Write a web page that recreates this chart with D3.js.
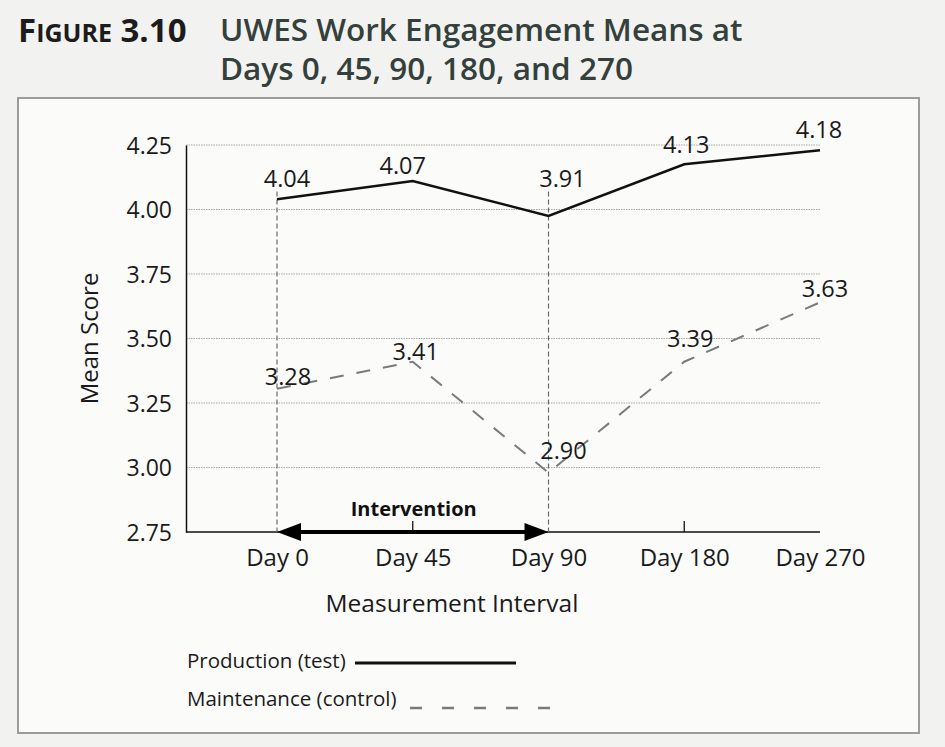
<!DOCTYPE html>
<html>
<head>
<meta charset="utf-8">
<script src="https://cdn.jsdelivr.net/npm/d3@7"></script>
<style>
  body { margin: 0; background: #f2f2f0; }
  svg { display: block; font-family: "Open Sans", sans-serif; }
</style>
</head>
<body>
<div id="chart"></div>
<script>
// data
const days = ["Day 0", "Day 45", "Day 90", "Day 180", "Day 270"];
const production = [4.04, 4.11, 3.975, 4.175, 4.23];
const maintenance = [3.305, 3.41, 2.98, 3.41, 3.64];
const productionLabels = ["4.04", "4.07", "3.91", "4.13", "4.18"];
const maintenanceLabels = ["3.28", "3.41", "2.90", "3.39", "3.63"];
const yTicks = [2.75, 3.00, 3.25, 3.50, 3.75, 4.00, 4.25];

const width = 945, height = 747;
const axisLeft = 186;
// hand placed label nudges (dx, dy) as in the print
const prodOffsets = [[10, -12], [-10, -7], [14, -29], [2, -11], [-1, -12]];
const maintOffsets = [[11, -4], [3, -2], [15, -14], [6, -15], [5, -5]];

const svg = d3.select("#chart").append("svg")
  .attr("width", width).attr("height", height);

// frame
svg.append("rect")
  .attr("x", 18).attr("y", 98).attr("width", 901).attr("height", 635)
  .attr("fill", "#fbfbfa").attr("stroke", "#9c9c9c").attr("stroke-width", 2);

// title
const title = svg.append("text").attr("x", 18).attr("y", 42)
  .attr("font-weight", 700).attr("fill", "#1c1c1c");
title.append("tspan").attr("font-size", 33).text("F");
title.append("tspan").attr("font-size", 25).text("IGURE");
title.append("tspan").attr("font-size", 33).text(" 3.10");

svg.append("text").attr("x", 220).attr("y", 41)
  .attr("font-size", 31.5).attr("font-weight", 600).attr("fill", "#33403c")
  .text("UWES Work Engagement Means at");
svg.append("text").attr("x", 220).attr("y", 80)
  .attr("font-size", 31.5).attr("font-weight", 600).attr("fill", "#33403c")
  .text("Days 0, 45, 90, 180, and 270");

const x = d3.scalePoint().domain(days).range([277, 820]);
const y = d3.scaleLinear().domain([2.75, 4.25]).range([532, 145]);

// gridlines
svg.append("g").selectAll("line")
  .data(yTicks.slice(1))
  .enter().append("line")
  .attr("x1", axisLeft).attr("x2", x("Day 270"))
  .attr("y1", d => y(d)).attr("y2", d => y(d))
  .attr("stroke", "#a8a8a8").attr("stroke-width", 1)
  .attr("stroke-dasharray", "1.5,1");

// y axis
const yAxis = svg.append("g")
  .attr("transform", `translate(${axisLeft},0)`)
  .call(d3.axisLeft(y).tickValues(yTicks).tickSize(0).tickPadding(14).tickFormat(d3.format(".2f")));
yAxis.select(".domain").attr("stroke", "#111").attr("stroke-width", 1.5);
yAxis.selectAll("text").attr("font-size", 23).attr("fill", "#1a1a1a")
  .attr("font-family", "Open Sans").attr("dy", "0.36em");

// x axis
const xAxis = svg.append("g")
  .attr("transform", "translate(0,532)")
  .call(d3.axisBottom(x).tickSize(0).tickPadding(17));
xAxis.select(".domain").remove();
xAxis.selectAll("text").attr("font-size", 24).attr("fill", "#1a1a1a")
  .attr("font-family", "Open Sans");

svg.append("line")
  .attr("x1", axisLeft).attr("x2", x("Day 270"))
  .attr("y1", y(2.75)).attr("y2", y(2.75))
  .attr("stroke", "#111").attr("stroke-width", 1.5);

// small upward ticks
svg.append("g").selectAll("line")
  .data(["Day 45", "Day 180"])
  .enter().append("line")
  .attr("x1", d => x(d)).attr("x2", d => x(d))
  .attr("y1", y(2.75)).attr("y2", y(2.75) - 11)
  .attr("stroke", "#111").attr("stroke-width", 1.3);

// axis titles
svg.append("text")
  .attr("transform", `translate(98,${(y(2.75) + y(4.25)) / 2}) rotate(-90)`)
  .attr("text-anchor", "middle").attr("font-size", 24).attr("fill", "#1a1a1a")
  .text("Mean Score");
svg.append("text")
  .attr("x", 452).attr("y", 612)
  .attr("text-anchor", "middle").attr("font-size", 24.5).attr("fill", "#1a1a1a")
  .text("Measurement Interval");

// intervention markers
svg.append("g").selectAll("line")
  .data(["Day 0", "Day 90"])
  .enter().append("line")
  .attr("x1", d => x(d)).attr("x2", d => x(d))
  .attr("y1", y(4.07)).attr("y2", y(2.75))
  .attr("stroke", "#6a6a6a").attr("stroke-width", 1.2)
  .attr("stroke-dasharray", "5,3");

const ay = y(2.75), ax0 = x("Day 0"), ax1 = x("Day 90");
svg.append("line")
  .attr("x1", ax0 + 15).attr("x2", ax1 - 15)
  .attr("y1", ay).attr("y2", ay)
  .attr("stroke", "#000").attr("stroke-width", 4);
svg.append("path")
  .attr("d", `M${ax0},${ay} L${ax0 + 24},${ay - 9} L${ax0 + 24},${ay + 9} Z`)
  .attr("fill", "#000");
svg.append("path")
  .attr("d", `M${ax1},${ay} L${ax1 - 24},${ay - 9} L${ax1 - 24},${ay + 9} Z`)
  .attr("fill", "#000");
svg.append("text")
  .attr("x", (ax0 + ax1) / 2 + 1).attr("y", 516)
  .attr("text-anchor", "middle").attr("font-size", 20).attr("font-weight", 700)
  .attr("fill", "#111").text("Intervention");

// series lines
const line = d3.line().x((d, i) => x(days[i])).y(d => y(d));

svg.append("path").datum(maintenance)
  .attr("d", line).attr("fill", "none")
  .attr("stroke", "#7a7a7a").attr("stroke-width", 2)
  .attr("stroke-dasharray", "14,13");

svg.append("path").datum(production)
  .attr("d", line).attr("fill", "none")
  .attr("stroke", "#111").attr("stroke-width", 2.5);

// value labels
svg.append("g").selectAll("text")
  .data(production)
  .enter().append("text")
  .attr("x", (d, i) => x(days[i]) + prodOffsets[i][0])
  .attr("y", (d, i) => y(d) + prodOffsets[i][1])
  .attr("text-anchor", "middle").attr("font-size", 23.5).attr("fill", "#1a1a1a")
  .text((d, i) => productionLabels[i]);

svg.append("g").selectAll("text")
  .data(maintenance)
  .enter().append("text")
  .attr("x", (d, i) => x(days[i]) + maintOffsets[i][0])
  .attr("y", (d, i) => y(d) + maintOffsets[i][1])
  .attr("text-anchor", "middle").attr("font-size", 23.5).attr("fill", "#1a1a1a")
  .text((d, i) => maintenanceLabels[i]);

// legend
svg.append("text").attr("x", 187).attr("y", 668)
  .attr("font-size", 20.5).attr("fill", "#1a1a1a").text("Production (test)");
svg.append("line").attr("x1", 355).attr("x2", 516).attr("y1", 663).attr("y2", 663)
  .attr("stroke", "#111").attr("stroke-width", 3);

svg.append("text").attr("x", 187).attr("y", 706)
  .attr("font-size", 20.5).attr("fill", "#1a1a1a").text("Maintenance (control)");
svg.append("line").attr("x1", 410).attr("x2", 564).attr("y1", 708).attr("y2", 708)
  .attr("stroke", "#7a7a7a").attr("stroke-width", 2.5)
  .attr("stroke-dasharray", "12,20");
</script>
</body>
</html>
